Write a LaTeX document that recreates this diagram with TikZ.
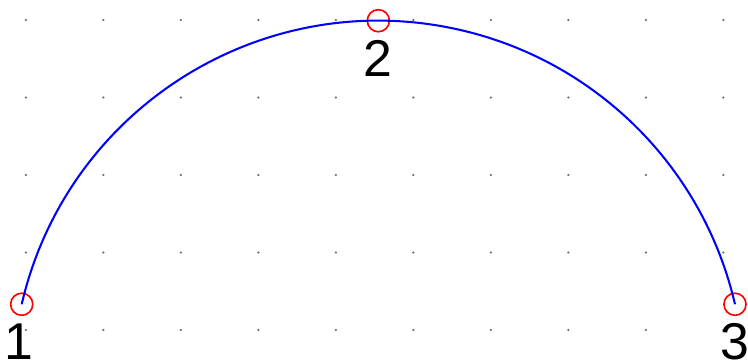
\documentclass[tikz,border=0pt]{standalone}
\usepackage{fontspec}
\setmainfont{Liberation Sans}
\usepackage{tikz}
\usetikzlibrary{positioning}
\definecolor{arcblue}{RGB}{0,0,255}
\definecolor{ptred}{RGB}{255,0,0}
\definecolor{dotgray}{RGB}{110,110,110}
\tikzstyle{arcline} = [line width=0.75pt, color=arcblue]
\tikzstyle{pt} = [circle, draw=ptred, line width=0.6pt, minimum size=0.285cm, inner sep=0pt]
\tikzstyle{lbl} = [inner sep=0pt, font=\fontsize{19}{19}\selectfont]

\begin{document}
\begin{tikzpicture}
    \useasboundingbox (0,0) rectangle (9.652,4.671);

    % Grid
    \foreach \i in {0,...,9}
        \foreach \j in {0,...,4}
            \fill[dotgray] (0.335+\i,0.413+\j) circle (0.45pt);

    % Nodes
    \node[pt] (p1) at (0.280,0.745) {};
    \node[pt] (p2) at (4.882,4.404) {};
    \node[pt] (p3) at (9.484,0.745) {};

    % Arc
    \draw[arcline] (p1.center) arc[start angle=166.98, end angle=13.02, radius=4.7235];

    % Numbers
    \node[lbl, below=2.5pt of p1, xshift=-1.2pt] (n1) {1};
    \node[lbl, below=2.5pt of p2] (n2) {2};
    \node[lbl, below=2.5pt of p3] (n3) {3};
\end{tikzpicture}
\end{document}
